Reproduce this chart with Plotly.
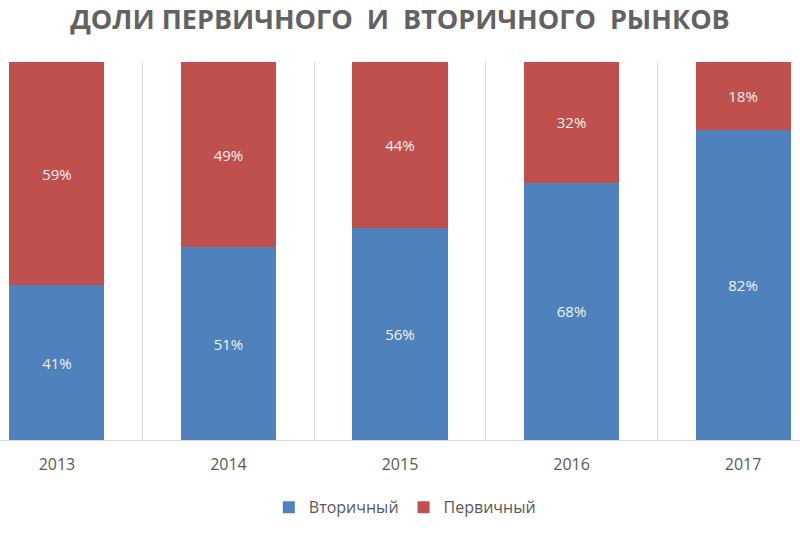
import plotly.graph_objects as go

years = ["2013", "2014", "2015", "2016", "2017"]
secondary = [41, 51, 56, 68, 82]   # Вторичный
primary = [59, 49, 44, 32, 18]     # Первичный

fig = go.Figure()
fig.add_trace(go.Bar(
    x=years, y=secondary, name="Вторичный",
    marker=dict(color="#4F81BD", line=dict(width=0)),
    text=[f"{v}%" for v in secondary], textposition="inside",
    insidetextanchor="middle", textangle=0,
    textfont=dict(color="#F2F2F2", size=15, family="Open Sans"),
))
fig.add_trace(go.Bar(
    x=years, y=primary, name="Первичный",
    marker=dict(color="#C0504D", line=dict(width=0)),
    text=[f"{v}%" for v in primary], textposition="inside",
    insidetextanchor="middle", textangle=0,
    textfont=dict(color="#F2F2F2", size=15, family="Open Sans"),
))

fig.update_layout(
    width=800, height=537,
    barmode="stack", bargap=0.446,
    paper_bgcolor="white", plot_bgcolor="white",
    margin=dict(l=0, r=0, t=62, b=97),
    title=dict(text="ДОЛИ ПЕРВИЧНОГО  И  ВТОРИЧНОГО  РЫНКОВ",
               x=0.5, xanchor="center", y=1 - 20 / 537, yanchor="middle",
               yref="container",
               font=dict(family="Open Sans", size=27, color="#626262", weight="bold")),
    legend=dict(orientation="h", x=0.506, xanchor="center", y=-0.178, yanchor="middle",
                font=dict(family="Open Sans", size=16, color="#595959"),
                itemwidth=30, traceorder="normal"),
    uniformtext=dict(minsize=10, mode="show"),
)
fig.update_xaxes(
    type="category", range=[-0.332, 4.332],
    tickson="boundaries", showgrid=True, gridcolor="#D9D9D9", gridwidth=1,
    showline=True, linecolor="#D9D9D9", linewidth=1,
    ticks="", ticklabelstandoff=10,
    tickfont=dict(family="Open Sans", size=16, color="#595959"),
)
fig.update_yaxes(range=[0, 100], visible=False, showgrid=False)

fig.write_html("out.html")
